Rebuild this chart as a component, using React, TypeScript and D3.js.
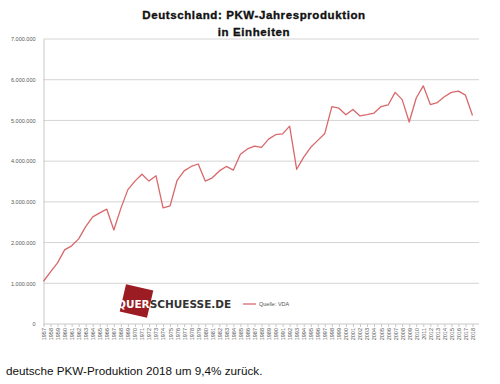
import * as d3 from 'd3';
import React, { useEffect, useRef } from 'react';

// Jahre 1957 - 2018
const years: number[] = d3.range(1957, 2019);

// PKW-Produktion in Einheiten
const production: number[] = [
  1050000, 1280000, 1500000, 1820000, 1920000, 2090000, 2390000, 2630000, 2730000, 2820000,
  2310000, 2840000, 3300000, 3510000, 3680000, 3510000, 3640000, 2850000, 2900000, 3530000,
  3760000, 3870000, 3930000, 3510000, 3590000, 3760000, 3870000, 3780000, 4170000, 4300000,
  4370000, 4340000, 4540000, 4650000, 4670000, 4860000, 3800000, 4100000, 4340000, 4510000,
  4680000, 5340000, 5300000, 5140000, 5270000, 5110000, 5140000, 5180000, 5340000, 5380000,
  5690000, 5510000, 4960000, 5550000, 5850000, 5390000, 5440000, 5580000, 5690000, 5720000,
  5620000, 5120000,
];

const yTicks: number[] = [0, 1000000, 2000000, 3000000, 4000000, 5000000, 6000000, 7000000];

const titleLines: string[] = ['Deutschland:  PKW-Jahresproduktion', 'in Einheiten'];
const legendLabel = 'Quelle: VDA';
const footnote = 'deutsche PKW-Produktion 2018 um 9,4% zurück.';

const fmt = (v: number) => (v === 0 ? '0' : d3.format(',')(v).replace(/,/g, '.'));

const App: React.FC = () => {
  const ref = useRef<SVGSVGElement>(null);

  useEffect(() => {
    if (!ref.current) return;
    const svg = d3.select(ref.current);
    svg.selectAll('*').remove();

    const left = 43.5, right = 479, top = 39, bottom = 324;
    const x = d3.scalePoint<number>().domain(years).range([left, 472.5]);
    const y = d3.scaleLinear().domain([0, 7000000]).range([bottom, top]);

    // Titel
    svg.selectAll('.title')
      .data(titleLines)
      .enter().append('text')
      .attr('x', 254)
      .attr('y', (d, i) => 19 + i * 17)
      .attr('text-anchor', 'middle')
      .style('font', 'bold 11.5px "Liberation Sans", Arial, sans-serif')
      .style('letter-spacing', '0.6px')
      .attr('fill', '#111')
      .attr('stroke', '#111')
      .attr('stroke-width', 0.35)
      .text(d => d);

    // Gitterlinien
    svg.append('g')
      .selectAll('line')
      .data(yTicks.filter(d => d > 0))
      .enter().append('line')
      .attr('x1', left).attr('x2', right)
      .attr('y1', d => y(d)).attr('y2', d => y(d))
      .attr('stroke', '#d4d4d4').attr('stroke-width', 1);

    // Y-Achse
    const yAxis = svg.append('g')
      .attr('transform', `translate(${left},0)`)
      .call(d3.axisLeft(y).tickValues(yTicks).tickFormat(d => fmt(d as number)).tickSize(0).tickPadding(8));
    yAxis.select('.domain').attr('stroke', '#c8c8c8');
    yAxis.selectAll('text')
      .style('font', '5.5px "Liberation Sans", Arial, sans-serif')
      .attr('fill', '#555');

    // X-Achse
    const xAxis = svg.append('g')
      .attr('transform', `translate(0,${bottom})`)
      .call(d3.axisBottom(x).tickSize(3).tickSizeOuter(0));
    xAxis.select('.domain').attr('d', `M${left},0H${right}`).attr('stroke', '#c8c8c8');
    xAxis.selectAll('line').attr('stroke', '#c8c8c8');
    xAxis.selectAll('text')
      .attr('transform', 'rotate(-90)')
      .attr('text-anchor', 'end')
      .attr('x', -4)
      .attr('y', 0)
      .attr('dy', '0.35em')
      .style('font', '5.5px "Liberation Sans", Arial, sans-serif')
      .attr('fill', '#555');

    // Linie
    const line = d3.line<number>()
      .x((d, i) => x(years[i]) as number)
      .y(d => y(d));
    svg.append('path')
      .datum(production)
      .attr('d', line)
      .attr('fill', 'none')
      .attr('stroke', '#d8686b')
      .attr('stroke-width', 1.3)
      .attr('stroke-linejoin', 'round');

    // Logo
    const logo = svg.append('g');
    logo.append('rect')
      .attr('x', -14).attr('y', -14)
      .attr('width', 28).attr('height', 28)
      .attr('fill', '#9c1c24')
      .attr('transform', 'translate(136.5,301) rotate(13)');
    const logoText = logo.append('text')
      .attr('x', 117).attr('y', 308)
      .style('font', 'bold 10.5px "DejaVu Sans", Verdana, sans-serif');
    logoText.append('tspan').attr('fill', '#fff').text('QUER');
    logoText.append('tspan').attr('fill', '#333').text('SCHUESSE.DE');

    // Legende
    svg.append('line')
      .attr('x1', 243).attr('x2', 256)
      .attr('y1', 304).attr('y2', 304)
      .attr('stroke', '#d8686b').attr('stroke-width', 1.3);
    svg.append('text')
      .attr('x', 259).attr('y', 306)
      .style('font', '5.5px "Liberation Sans", Arial, sans-serif')
      .attr('fill', '#555')
      .text(legendLabel);

    // Fußnote
    svg.append('text')
      .attr('x', 6).attr('y', 375)
      .style('font', '11.7px "Liberation Sans", Arial, sans-serif')
      .attr('fill', '#111')
      .text(footnote);
  }, []);

  return (
    <svg
      ref={ref}
      width={500}
      height={384}
      style={{ position: 'absolute', left: 0, top: 0, background: '#fff' }}
    />
  );
};

export default App;
